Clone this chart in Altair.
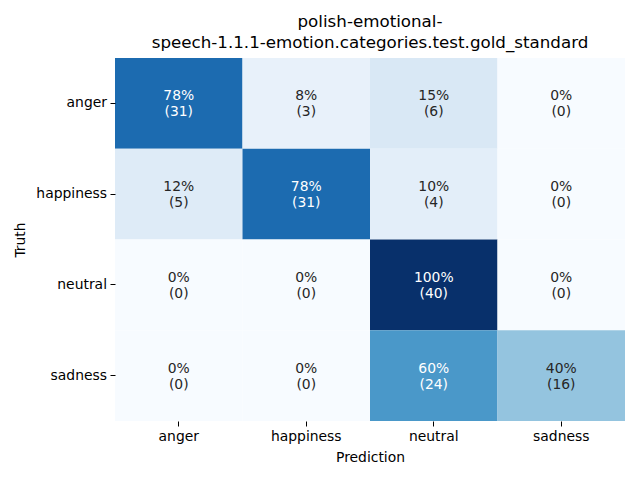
import altair as alt
import pandas as pd

truth = ["anger", "happiness", "neutral", "sadness"]
pred = ["anger", "happiness", "neutral", "sadness"]
counts = [
    [31, 3, 6, 0],
    [5, 31, 4, 0],
    [0, 0, 40, 0],
    [0, 0, 24, 16],
]
pcts = [
    [78, 8, 15, 0],
    [12, 78, 10, 0],
    [0, 0, 100, 0],
    [0, 0, 60, 40],
]

blues = ["#f7fbff", "#deebf7", "#c6dbef", "#9ecae1", "#6baed6",
         "#4292c6", "#2171b5", "#08519c", "#08306b"]
stops = [i / 8 for i in range(9)]

rows = []
for i, t in enumerate(truth):
    tot = sum(counts[i])
    for j, p in enumerate(pred):
        rows.append(dict(
            truth=t, pred=p, count=counts[i][j], frac=counts[i][j] / tot,
            label=f"{pcts[i][j]}%\n({counts[i][j]})",
        ))
df = pd.DataFrame(rows)

FONT = "DejaVu Sans"

base = alt.Chart(df).encode(
    x=alt.X("pred:N", sort=pred, title="Prediction",
            scale=alt.Scale(paddingInner=0, paddingOuter=0),
            axis=alt.Axis(labelAngle=0, orient="bottom")),
    y=alt.Y("truth:N", sort=truth, title="Truth",
            scale=alt.Scale(paddingInner=0, paddingOuter=0)),
)

rects = base.mark_rect(stroke=None).encode(
    color=alt.Color("frac:Q", legend=None,
                    scale=alt.Scale(domain=stops, range=blues, interpolate="rgb")),
)

texts = base.mark_text(font=FONT, fontSize=13.9, lineBreak="\n", lineHeight=16,
                       baseline="middle", dy=-7).encode(
    text="label:N",
    color=alt.condition("datum.frac > 0.5", alt.value("white"), alt.value("#262626")),
)

chart = (rects + texts).properties(
    width=510, height=363,
    title=alt.TitleParams(
        text=["polish-emotional-", "speech-1.1.1-emotion.categories.test.gold_standard"],
        font=FONT, fontSize=16.7, fontWeight="normal", color="black",
        offset=6, lineHeight=21, anchor="middle",
    ),
    autosize=alt.AutoSizeParams(type="none"),
    padding={"left": 115, "top": 58, "right": 15, "bottom": 59},
).configure_view(stroke=None).configure_axis(
    domain=False, ticks=True, tickSize=5, tickColor="black", tickWidth=1,
    labelFont=FONT, labelFontSize=13.9, labelColor="black", labelPadding=3.5,
    titleFont=FONT, titleFontSize=13.9, titleFontWeight="normal", titleColor="black",
    grid=False,
).configure_axisY(titlePadding=8).configure_axisX(titlePadding=7)

chart.save("out.html", embed_options={"renderer": "svg", "actions": False})
